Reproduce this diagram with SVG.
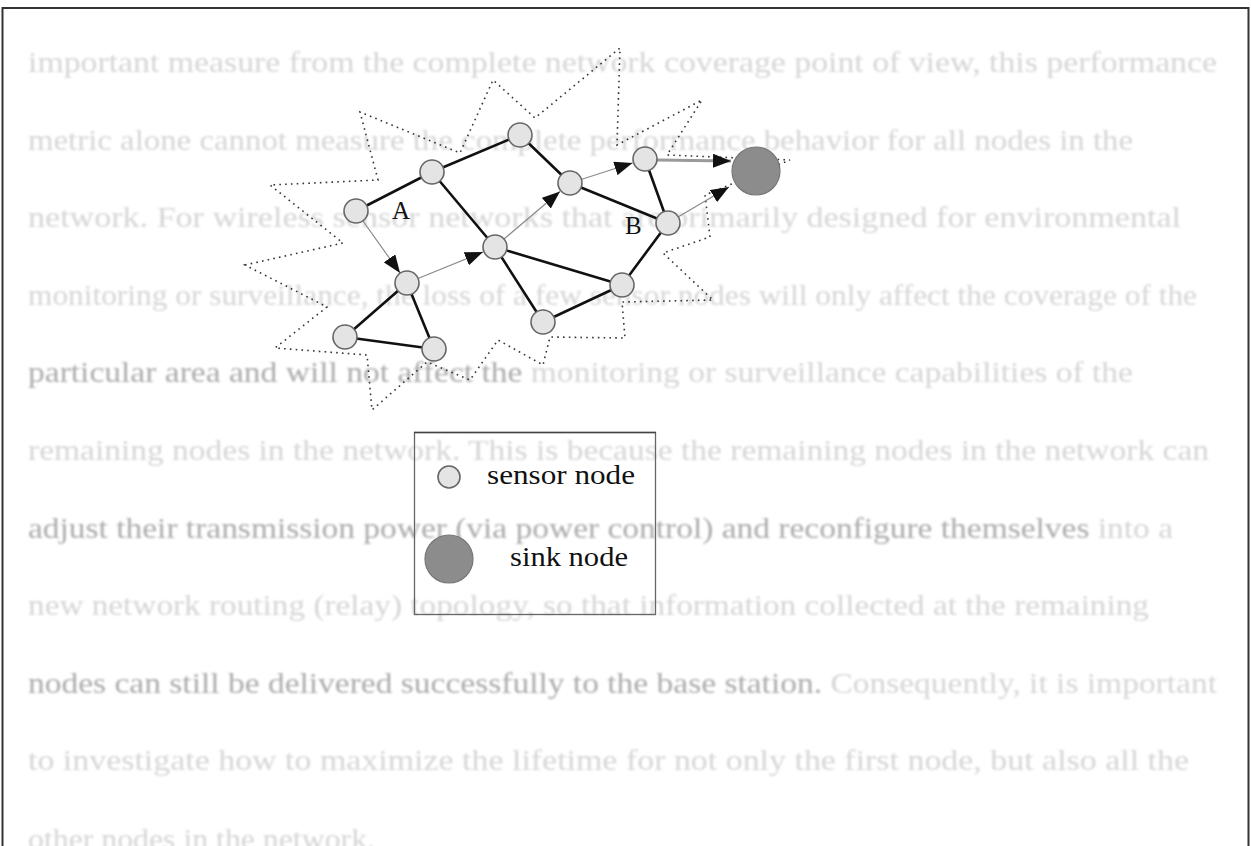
<svg xmlns="http://www.w3.org/2000/svg" width="1251" height="846" viewBox="0 0 1251 846">
<style>
.ghost{font-family:"Liberation Serif","Times New Roman",serif;font-size:29px;fill:#d6d6d6}
.dk{fill:#acacac}
.edge{stroke:#111;stroke-width:2.6;fill:none;stroke-linecap:round}
.dir{stroke:#8a8a8a;stroke-width:1.2;fill:none}
.sensor{fill:#e4e4e4;stroke:#666;stroke-width:1.6}
.sink{fill:#8c8c8c;stroke:#777;stroke-width:1.2}
.lbl{font-family:"Liberation Serif","Times New Roman",serif;font-size:25px;fill:#111}
.leg{font-family:"Liberation Serif","Times New Roman",serif;font-size:27px;fill:#111}
.star{fill:none;stroke:#333;stroke-width:1.6;stroke-dasharray:1.6 4.2}
</style>
<defs>
<filter id="soft" x="-2%" y="-20%" width="104%" height="140%"><feGaussianBlur stdDeviation="1.1"/></filter>
<marker id="ah" markerUnits="userSpaceOnUse" markerWidth="19" markerHeight="14" refX="18" refY="7" orient="auto"><path d="M0,0 L18,7 L0,14 z" fill="#111"/></marker>
</defs>
<rect x="0" y="0" width="1251" height="846" fill="#ffffff"/>
<rect x="2.5" y="8" width="1246" height="860" fill="none" stroke="#333" stroke-width="2"/>
<g id="background-text" filter="url(#soft)">
<text class="ghost" x="28" y="72" textLength="1189" lengthAdjust="spacingAndGlyphs">important measure from the complete network coverage point of view, this performance</text>
<text class="ghost" x="28" y="150" textLength="1105" lengthAdjust="spacingAndGlyphs">metric alone cannot measure the complete performance behavior for all nodes in the</text>
<text class="ghost" x="28" y="227" textLength="1153" lengthAdjust="spacingAndGlyphs">network. For wireless sensor networks that are primarily designed for environmental</text>
<text class="ghost" x="28" y="305" textLength="1169" lengthAdjust="spacingAndGlyphs">monitoring or surveillance, the loss of a few sensor nodes will only affect the coverage of the</text>
<text class="ghost" x="28" y="382" textLength="1105" lengthAdjust="spacingAndGlyphs"><tspan class="dk">particular area and will not affect the</tspan> monitoring or surveillance capabilities of the</text>
<text class="ghost" x="28" y="460" textLength="1181" lengthAdjust="spacingAndGlyphs">remaining nodes in the network. This is because the remaining nodes in the network can</text>
<text class="ghost" x="28" y="538" textLength="1145" lengthAdjust="spacingAndGlyphs"><tspan class="dk">adjust their transmission power (via power control) and reconfigure themselves</tspan> into a</text>
<text class="ghost" x="28" y="615" textLength="1121" lengthAdjust="spacingAndGlyphs">new network routing (relay) topology, so that information collected at the remaining</text>
<text class="ghost" x="28" y="693" textLength="1189" lengthAdjust="spacingAndGlyphs"><tspan class="dk">nodes can still be delivered successfully to the base station.</tspan> Consequently, it is important</text>
<text class="ghost" x="28" y="770" textLength="1161" lengthAdjust="spacingAndGlyphs">to investigate how to maximize the lifetime for not only the first node, but also all the</text>
<text class="ghost" x="28" y="849" textLength="347" lengthAdjust="spacingAndGlyphs">other nodes in the network.</text>
</g>
<g id="coverage-area">
<polygon class="star" points="245,265 343,243 270,185 378,180 360,112 460,153 493,80 535,118 620,48 617,145 702,100 667,155 790,160 705,195 710,237 663,253 713,300 622,302 625,338 550,337 543,365 498,340 470,380 427,362 372,410 367,355 275,348 327,307"/>
</g>
<g id="connectors">
<line class="edge" x1="356" y1="211" x2="432" y2="172"/>
<line class="edge" x1="432" y1="172" x2="520" y2="135"/>
<line class="edge" x1="520" y1="135" x2="570" y2="183"/>
<line class="edge" x1="432" y1="172" x2="495" y2="247"/>
<line class="edge" x1="495" y1="247" x2="622" y2="285"/>
<line class="edge" x1="495" y1="247" x2="543" y2="322"/>
<line class="edge" x1="543" y1="322" x2="622" y2="285"/>
<line class="edge" x1="622" y1="285" x2="668" y2="223"/>
<line class="edge" x1="668" y1="223" x2="645" y2="159"/>
<line class="edge" x1="570" y1="183" x2="668" y2="223"/>
<line class="edge" x1="407" y1="283" x2="345" y2="337"/>
<line class="edge" x1="407" y1="283" x2="434" y2="349"/>
<line class="edge" x1="345" y1="337" x2="434" y2="349"/>
<line class="dir" x1="363" y1="221" x2="400" y2="273" marker-end="url(#ah)"/>
<line class="dir" x1="418" y1="278.5" x2="483" y2="252" marker-end="url(#ah)"/>
<line class="dir" x1="504" y1="239" x2="560" y2="191.5" marker-end="url(#ah)"/>
<line class="dir" x1="581" y1="179.5" x2="632.5" y2="163" marker-end="url(#ah)"/>
<line x1="657" y1="160" x2="731" y2="161" stroke="#9a9a9a" stroke-width="3.2" marker-end="url(#ah)"/>
<line class="dir" x1="678" y1="217" x2="729" y2="187" marker-end="url(#ah)"/>
</g>
<g id="node-A"><circle class="sensor" cx="356" cy="211" r="12"/><text class="lbl" x="392" y="219">A</text></g>
<g id="node-2"><circle class="sensor" cx="432" cy="172" r="12"/></g>
<g id="node-3"><circle class="sensor" cx="520" cy="135" r="12"/></g>
<g id="node-4"><circle class="sensor" cx="570" cy="183" r="12"/></g>
<g id="node-5"><circle class="sensor" cx="645" cy="159" r="12"/></g>
<g id="node-B"><circle class="sensor" cx="668" cy="223" r="12"/><text class="lbl" x="625" y="234">B</text></g>
<g id="node-7"><circle class="sensor" cx="495" cy="247" r="12"/></g>
<g id="node-8"><circle class="sensor" cx="407" cy="283" r="12"/></g>
<g id="node-9"><circle class="sensor" cx="345" cy="337" r="12"/></g>
<g id="node-10"><circle class="sensor" cx="434" cy="349" r="12"/></g>
<g id="node-11"><circle class="sensor" cx="543" cy="322" r="12"/></g>
<g id="node-12"><circle class="sensor" cx="622" cy="285" r="12"/></g>
<g id="node-sink"><circle class="sink" cx="756" cy="171" r="24"/></g>
<g id="legend">
<rect x="414.5" y="432.5" width="241" height="182" fill="none" stroke="#666" stroke-width="1.3"/>
<line x1="414" y1="432.5" x2="656" y2="432.5" stroke="#444" stroke-width="1.5"/>
<circle class="sensor" cx="449" cy="477" r="11"/>
<text class="leg" x="487" y="484" textLength="148" lengthAdjust="spacingAndGlyphs">sensor node</text>
<circle class="sink" cx="449" cy="559" r="24"/>
<text class="leg" x="510" y="566" textLength="118" lengthAdjust="spacingAndGlyphs">sink node</text>
</g>
</svg>
